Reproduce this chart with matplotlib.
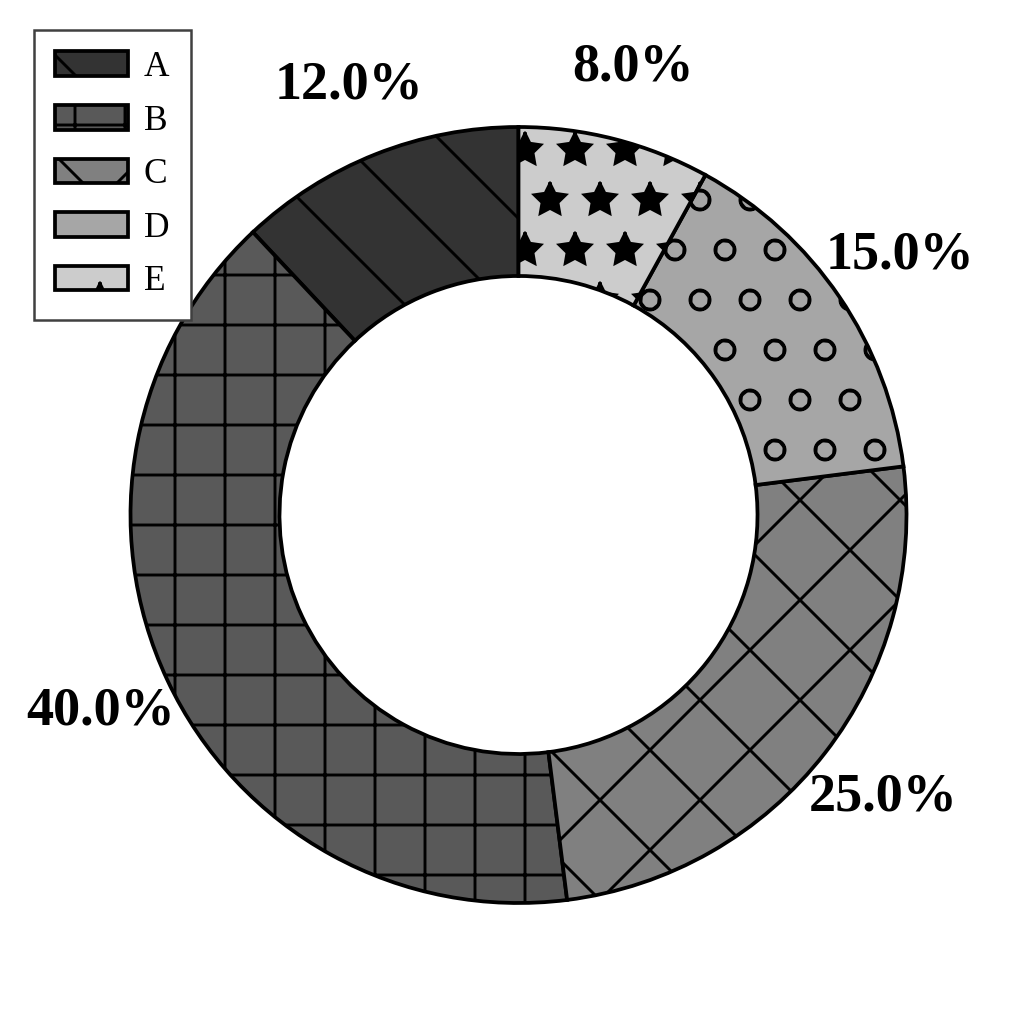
import matplotlib
matplotlib.use("Agg")
import matplotlib.pyplot as plt

# data
labels = ["A", "B", "C", "D", "E"]
shares = [12.0, 40.0, 25.0, 15.0, 8.0]
colors = ["#333333", "#595959", "#808080", "#a6a6a6", "#cccccc"]
hatches = ["\\", "+", "x", "o", "*"]

plt.rcParams["font.family"] = ["Liberation Serif", "DejaVu Serif"]
plt.rcParams["hatch.linewidth"] = 0.7

W, H, DPI = 1032, 1029, 300
fig = plt.figure(figsize=(W / DPI, H / DPI), dpi=DPI)
ax = fig.add_axes([0, 0, 1, 1])

R = 388.0  # outer radius in px
cx, cy = 518.5, H - 515.0
wedges, texts = ax.pie(
    shares, colors=colors, startangle=90, counterclock=True,
    labels=[f"{s:.1f}%" for s in shares], labeldistance=1.19,
    wedgeprops=dict(width=0.384, edgecolor="black", linewidth=0.9),
    textprops=dict(fontsize=13, fontweight="bold"),
)
for w, h in zip(wedges, hatches):
    w.set_hatch(h)
for t in texts:
    t.set_ha("center")
    t.set_va("center")

ax.set_xlim(-cx / R, (W - cx) / R)
ax.set_ylim(-cy / R, (H - cy) / R)
ax.set_aspect("equal")
ax.axis("off")

leg = ax.legend(wedges, labels, loc="upper left",
                bbox_to_anchor=(34 / W, 1 - 30 / H), bbox_transform=fig.transFigure,
                borderaxespad=0, fontsize=8.5, fancybox=False, framealpha=1,
                edgecolor="0.25", labelspacing=0.58, borderpad=0.6,
                handlelength=2.05, handletextpad=0.45)
leg.get_frame().set_linewidth(0.6)

fig.savefig("out.png", dpi=DPI)
